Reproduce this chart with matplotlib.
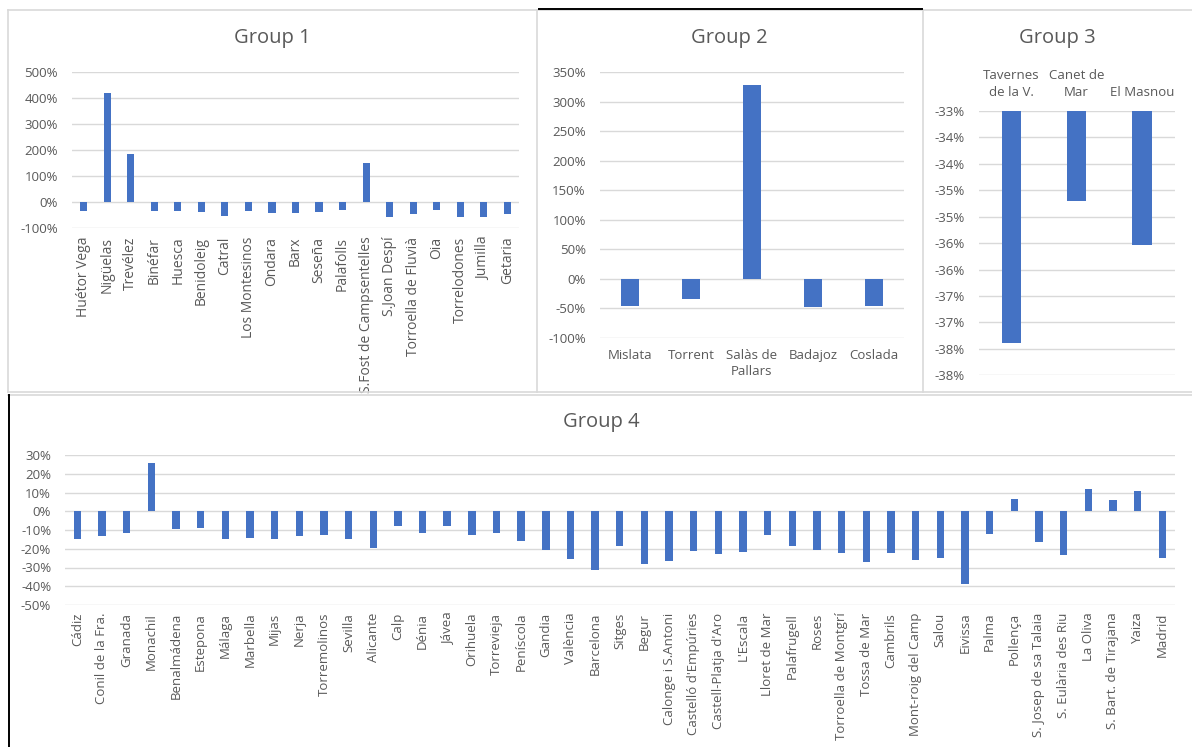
import math
import numpy as np
import matplotlib
matplotlib.use('Agg')
import matplotlib.pyplot as plt
from matplotlib.ticker import FuncFormatter, MultipleLocator
from matplotlib.lines import Line2D

plt.rcParams['font.family'] = ['Open Sans', 'DejaVu Sans']

# ---- data (percent change) ----
g1_labels = ['Huétor Vega', 'Nigüelas', 'Trevélez', 'Binéfar', 'Huesca', 'Benidoleig',
             'Catral', 'Los Montesinos', 'Ondara', 'Barx', 'Seseña', 'Palafolls',
             'S.Fost de Campsentelles', 'S.Joan Despí', 'Torroella de Fluvià', 'Oia',
             'Torrelodones', 'Jumilla', 'Getaria']
g1_values = [-37, 420, 185, -37, -37, -41, -54, -37, -45, -45, -41, -32,
             148, -57, -48, -30, -60, -57, -48]

g2_labels = ['Mislata', 'Torrent', 'Salàs de\nPallars', 'Badajoz', 'Coslada']
g2_values = [-46, -35, 328, -48.5, -47]

g3_labels = ['Tavernes\nde la V.', 'Canet de\nMar', 'El Masnou']
g3_values = [-37.38, -34.71, -35.53]

g4_labels = ['Cádiz', 'Conil de la Fra.', 'Granada', 'Monachil', 'Benalmádena', 'Estepona',
             'Málaga', 'Marbella', 'Mijas', 'Nerja', 'Torremolinos', 'Sevilla', 'Alicante',
             'Calp', 'Dénia', 'Jávea', 'Orihuela', 'Torrevieja', 'Peníscola', 'Gandia',
             'València', 'Barcelona', 'Sitges', 'Begur', 'Calonge i S.Antoni',
             "Castelló d'Empúries", "Castell-Platja d'Aro", "L'Escala", 'Lloret de Mar',
             'Palafrugell', 'Roses', 'Torroella de Montgrí', 'Tossa de Mar', 'Cambrils',
             'Mont-roig del Camp', 'Salou', 'Eivissa', 'Palma', 'Pollença',
             'S. Josep de sa Talaia', 'S. Eulària des Riu', 'La Oliva',
             'S. Bart. de Tirajana', 'Yaiza', 'Madrid']
g4_values = [-14.6, -13.2, -11.4, 26.0, -9.4, -8.9, -14.6, -14.0, -14.6, -13.2, -12.8,
             -14.9, -19.7, -7.6, -11.4, -7.6, -12.8, -11.4, -15.8, -20.4, -25.4, -31.1,
             -18.7, -28.1, -26.3, -21.2, -22.6, -21.7, -12.8, -18.3, -20.8, -22.0, -26.8,
             -22.0, -26.0, -24.7, -38.8, -12.3, 6.6, -16.5, -23.1, 12.1, 6.2, 10.8, -24.7]

W, H = 1192, 747
BLUE = '#4472C4'
GRID = '#D9D9D9'
TXT = '#595959'

fig = plt.figure(figsize=(W / 100, H / 100), dpi=100)


def rect(x0, y0, x1, y1):
    return [x0 / W, 1 - y1 / H, (x1 - x0) / W, (y1 - y0) / H]


def line(xs, ys, color=GRID, lw=1.2):
    fig.add_artist(Line2D([x / W for x in xs], [1 - y / H for y in ys],
                          transform=fig.transFigure, color=color, lw=lw))


def bar_chart(pos, labels, values, ylim, step, fmt, base=0, rot=0, top=False, xpad=6,
              xsize=9.5):
    ax = fig.add_axes(rect(*pos))
    x = np.arange(len(values))
    heights = [v - base for v in values]
    ax.bar(x, heights, bottom=base, width=0.3, color=BLUE, zorder=3)
    ax.set_xlim(-0.5, len(values) - 0.5)
    ax.set_ylim(*ylim)
    ax.yaxis.set_major_locator(MultipleLocator(step))
    ax.yaxis.set_major_formatter(FuncFormatter(fmt))
    ax.set_xticks(x)
    ax.set_xticklabels(labels, rotation=rot, fontsize=xsize, color=TXT, linespacing=1.35)
    if top:
        ax.xaxis.tick_top()
    ax.tick_params(axis='y', length=0, pad=10, labelsize=9.5, labelcolor=TXT)
    ax.tick_params(axis='x', length=0, pad=xpad)
    ax.grid(axis='y', color=GRID, lw=1, zorder=0)
    ax.set_axisbelow(True)
    for s in ax.spines.values():
        s.set_visible(False)
    return ax


pct = lambda v, p: f'{v:.0f}%'


def pct_half_up(v, p):
    r = math.floor(abs(v) + 0.5 + 1e-9)
    return f'{"-" if v < 0 else ""}{r}%'


bar_chart((72, 72, 519, 227.7), g1_labels, g1_values, (-100, 500), 100, pct, rot=90,
          xpad=6.5, xsize=10)
bar_chart((599.6, 72, 904.4, 337.7), g2_labels, g2_values, (-100, 350), 50, pct, xpad=8)
bar_chart((978.7, 111, 1174.6, 375.3), g3_labels, g3_values, (-38, -33), 0.5, pct_half_up,
          base=-33, top=True, xpad=9)
bar_chart((65, 455, 1174.6, 605), g4_labels, g4_values, (-50, 30), 10, pct, rot=90,
          xpad=5.5, xsize=9.5)

for label, cx, cy in [('Group 1', 272, 38), ('Group 2', 729.7, 38),
                      ('Group 3', 1057.6, 38), ('Group 4', 601, 421.7)]:
    fig.text(cx / W, 1 - cy / H, label, ha='center', va='center', fontsize=14.5, color=TXT)

# panel borders
line([8, 1192], [10, 10])
line([8, 1192], [392, 392])
line([8, 8], [10, 392])
line([536.5, 536.5], [10, 392])
line([922.5, 922.5], [10, 392])
line([8, 1192], [395, 395])
line([539, 922], [9, 9], color='black', lw=1.4)
line([8.5, 8.5], [395, 747], color='black', lw=1.4)

fig.savefig('out.png', dpi=100, facecolor='white')
